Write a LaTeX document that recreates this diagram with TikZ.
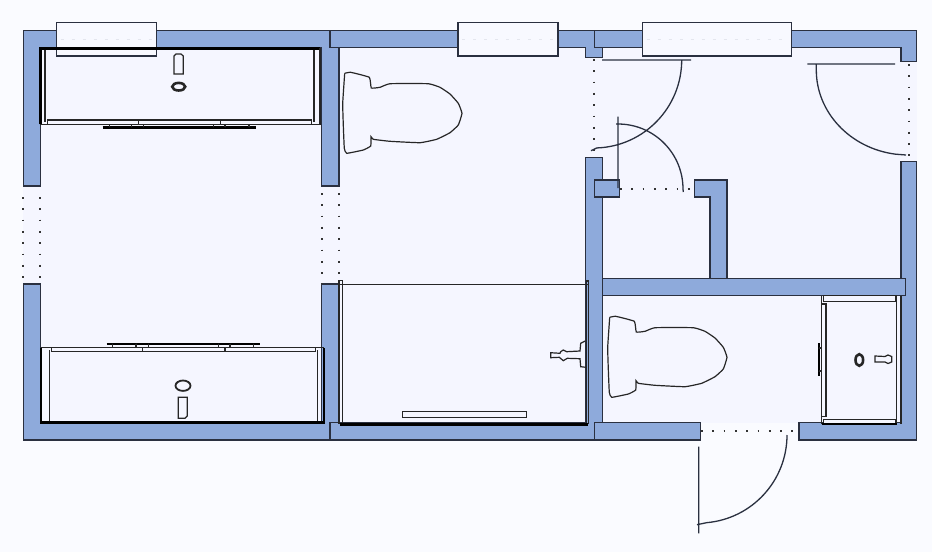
\documentclass[tikz,border=0pt]{standalone}
\definecolor{outerbg}{HTML}{FAFBFF}
\definecolor{innerbg}{HTML}{F5F6FF}
\definecolor{wallblue}{HTML}{8EAADB}
\definecolor{wallline}{HTML}{2A3040}
\definecolor{winfill}{HTML}{F8F9FF}
\definecolor{winmark}{HTML}{E4E6EE}
\newcommand{\toiletoutline}{%
    plot[smooth,tension=.2] coordinates {
        (344.7,73.3) (350.7,72.3) (369.3,77.3) (371.3,88) (380,87.3) (390,83.7)
        (428.3,83.7) (440,87.3) (450,94) (458.3,103.3) (462,113.3) (458.3,125)
        (450,132.7) (436.7,139.3) (420,142.7) (390,141.3) (373.3,139.3) (371,136.7)
        (370.7,146) (363.3,150) (346.7,153.3) (344.3,148.3) (343.3,125) (342.7,103.3)
        (344.7,73.3)}}
\tikzset{
    wall/.style={draw=wallline,fill=wallblue,line width=1.3pt},
    windowbox/.style={draw=wallline,fill=winfill,line width=1.3pt},
    doorline/.style={draw=wallline,line width=1.3pt},
    fixture/.style={draw=black!85,line width=1.2pt,fill=innerbg},
    heavy/.style={draw=black,line width=2.4pt},
    gapdots/.style={draw=black!80,line width=1.8pt,dash pattern=on 1.8pt off 9.5pt},
}

\begin{document}
\begin{tikzpicture}[x=1pt,y=-1pt]
    \useasboundingbox (0,0) rectangle (932,552);
    \fill[outerbg] (0,0) rectangle (932,552);
    \fill[innerbg] (23.3,30.7) rectangle (916.7,423);
    % walls
    \path[wall]
        (23.3,30.7) -- (330,30.7) -- (330,47.7) -- (339,47.7) -- (339,186) -- (321.7,186)
        -- (321.7,47.7) -- (40.3,47.7) -- (40.3,186) -- (23.3,186) -- cycle;
    \path[wall]
        (330,30.7) -- (594.3,30.7) -- (594.3,47.7) -- (602.7,47.7) -- (602.7,57.3)
        -- (585.7,57.3) -- (585.7,47.7) -- (330,47.7) -- cycle;
    \path[wall]
        (594.3,30.7) -- (916.7,30.7) -- (916.7,61.7) -- (901,61.7) -- (901,47.7)
        -- (594.3,47.7) -- cycle;
    \path[wall]
        (23.3,284) -- (40.3,284) -- (40.3,422.7) -- (321.7,422.7) -- (321.7,284) -- (339,284)
        -- (339,422.7) -- (330,422.7) -- (330,440) -- (23.3,440) -- cycle;
    \path[wall]
        (330,422.7) -- (585.7,422.7) -- (585.7,157.7) -- (602.7,157.7) -- (602.7,422.7)
        -- (594.3,422.7) -- (594.3,440) -- (330,440) -- cycle;
    \path[wall]
        (901,161.7) -- (916.7,161.7) -- (916.7,440) -- (799,440) -- (799,422.7)
        -- (901,422.7) -- cycle;
    \path[wall]
        (694.3,180) -- (727,180) -- (727,278.7) -- (710,278.7) -- (710,197) -- (694.3,197) -- cycle;
    \path[wall]
        (594.3,180) rectangle (619.7,197)
        (602.7,278.7) rectangle (905.7,295.7)
        (594.3,422.7) rectangle (700.7,440);
    % windows
    \foreach \xa/\xb in {56.7/156.7,458/558,642.7/791.3}{
        \path[windowbox] (\xa,22.3) rectangle (\xb,56);
        \draw[winmark,dash pattern=on 3pt off 8pt] (\xa+4,39) -- (\xb-2,39);
    }
    % openings
    \foreach \xa/\ya/\xb/\yb in {%
        23.3/197/23.3/284,
        40.3/197/40.3/284,
        321.7/193/321.7/284,
        339/193/339/284,
        594.3/59/594.3/157,
        909/64/909/162,
        620/188.7/694/188.7,
        701/431/799/431%
    }{
        \draw[gapdots] (\xa,\ya) -- (\xb,\yb);
    }
    % doors
    \path[doorline]
        (602,60) -- (691,60)
        (681.7,60) arc[start angle=0,end angle=88,radius=88] -- (591,150.7)
        (618,116.7) -- (618,188)
        (683.3,192) -- (683,189) arc[start angle=0,end angle=-88,radius=65] -- (616,124)
        (807.3,64) -- (895,64)
        (816.3,64) -- (816.3,70) arc[start angle=180,end angle=98,x radius=92,y radius=85] -- (906,155)
        (698.7,446.7) -- (698.7,533.3)
        (787,435) arc[start angle=0,end angle=85,radius=88] -- (697,524.7);
    % toilets
    \draw[fixture,fill=none] \toiletoutline;
    \begin{scope}[shift={(265,244)}]
        \draw[fixture,fill=none] \toiletoutline;
    \end{scope}
    % top unit
    \draw[heavy] (40.3,124.3) -- (40.3,48.3) -- (320,48.3);
    \draw[fixture,fill=none]
        (40.3,124.3) -- (320,124.3) -- (320,48.3)
        (45,50) -- (45,122)
        (314,50) -- (314,122);
    \draw[fixture] (47.3,120) rectangle (311.7,124.3);
    \foreach \xa in {138.3,220.7}{
        \draw[fixture] (\xa,120) -- (\xa,124.3);
    }
    \draw[heavy] (102.7,127.3) -- (256,127.3);
    \foreach \xa in {109.3,131.7,143.3,213.3,225,249}{
        \draw[fixture] (\xa,124.3) -- (\xa,127.3);
    }
    \draw[fixture] (174,56) -- (176,54) -- (181,54) -- (183.3,56) -- (183.3,74) -- (174,74) -- cycle;
    \draw[fixture,line width=2.6pt] (178.7,86.7) ellipse[x radius=6.5,y radius=3.8];
    % bottom unit
    \draw[heavy] (41,347.7) -- (41,422.3) -- (324,422.3) -- (324,347.7);
    \draw[fixture,fill=none]
        (41,347.7) -- (324,347.7)
        (49.3,350) -- (49.3,421)
        (317.7,350) -- (317.7,421);
    \draw[fixture] (51.7,347.7) rectangle (315.7,351.7);
    \foreach \xa in {142.3,225}{
        \draw[fixture] (\xa,347.7) -- (\xa,351.7);
    }
    \draw[heavy] (106.7,343.7) -- (260,343.7);
    \foreach \xa in {112.3,136,148.3,218.3,230,253.3}{
        \draw[fixture] (\xa,343.7) -- (\xa,347);
    }
    \draw[fixture] (178.3,397.3) -- (187.3,397.3) -- (187.3,416) -- (185,418.3) -- (178.3,418.3) -- cycle;
    \draw[fixture,line width=1.8pt] (183,385.7) ellipse[x radius=7.5,y radius=5.2];
    % middle unit
    \draw[fixture,fill=none]
        (339,280.3) -- (339,424.3)
        (342.7,280.3) -- (342.7,424.3)
        (339,280.3) -- (342.7,280.3)
        (339,284.7) -- (588.7,284.7)
        (586.3,281) -- (586.3,424.3)
        (588.7,281) -- (588.7,424.3)
        (586.3,281) -- (588.7,281);
    \draw[heavy] (340,424.3) -- (588,424.3);
    \draw[fixture] (402.7,411.7) rectangle (526.7,417.7);
    \draw[fixture,fill=none]
        (585.3,341) -- (580.7,343.3) -- (580,351) -- (566.7,351.7) -- (563.3,350)
        -- (560.7,351.7) -- (560,353.3) -- (550.7,352.7) -- (550.7,357.7) -- (559.3,357.3)
        -- (563.3,360.7) -- (567.3,358.3) -- (580,358.7) -- (580.7,366.7) -- (586,367.3);
    % right unit
    \draw[fixture,fill=none]
        (821.7,296) -- (821.7,424)
        (896.7,296) -- (896.7,424)
        (901,296) -- (901,424);
    \draw[fixture] (823.3,295.7) rectangle (896,301.7);
    \draw[fixture] (821.7,304) rectangle (826,416.7);
    \draw[fixture] (823.3,419.3) rectangle (896,424);
    \draw[heavy] (821.7,424) -- (896.7,424);
    \draw[heavy] (818.7,343.3) -- (818.7,376);
    \foreach \ya in {348,371}{
        \draw[fixture] (818.7,\ya) -- (821.7,\ya);
    }
    \draw[fixture] (875,356) -- (885,356.5) -- (888,355) -- (891.7,356.5) -- (891.7,362)
        -- (888,363.5) -- (885,362) -- (875,362) -- cycle;
    \draw[fixture,line width=2.6pt] (859.3,360) ellipse[x radius=3.8,y radius=5.8];
\end{tikzpicture}
\end{document}
